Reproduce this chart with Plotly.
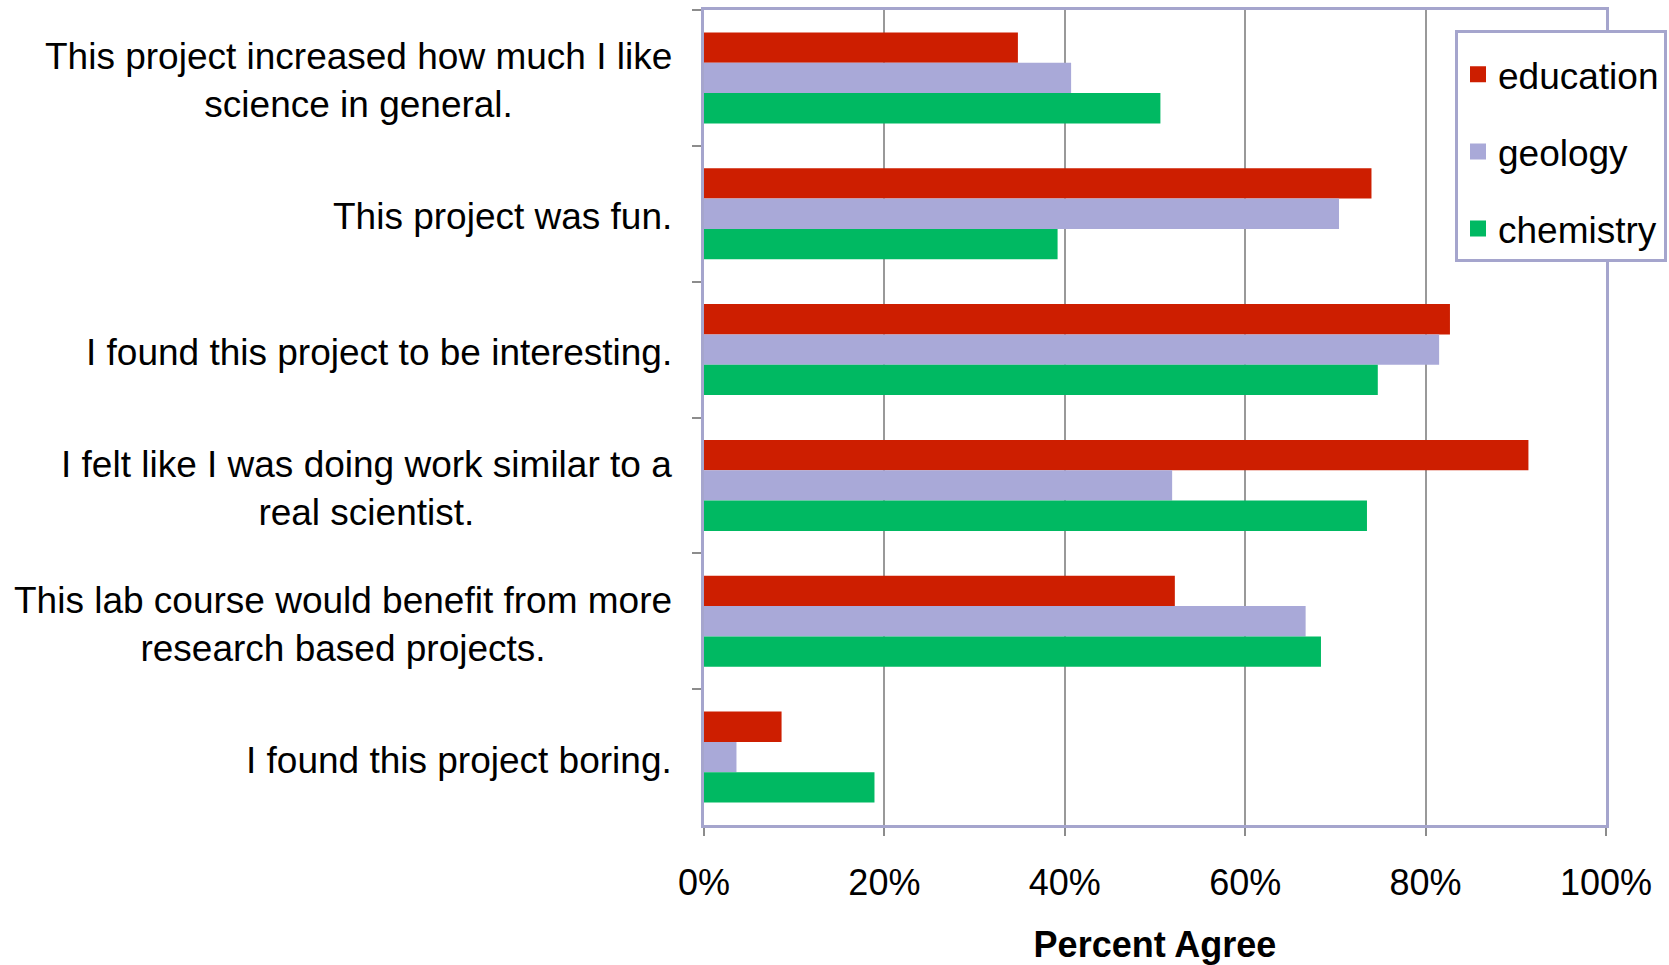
import plotly.graph_objects as go

categories = [
    "This project increased how much I like<br>science in general.",
    "This project was fun.",
    "I found this project to be interesting.",
    "I felt like I was doing work similar to a<br>real scientist.",
    "This lab course would benefit from more<br>research based projects.",
    "I found this project boring.",
]
education = [34.8, 74.0, 82.7, 91.4, 52.2, 8.6]
geology = [40.7, 70.4, 81.5, 51.9, 66.7, 3.6]
chemistry = [50.6, 39.2, 74.7, 73.5, 68.4, 18.9]
series_names = ["education", "geology", "chemistry"]
x_ticks = [0, 20, 40, 60, 80, 100]
x_tick_labels = ["0%", "20%", "40%", "60%", "80%", "100%"]

colors = ["#cd1e00", "#a9a9d8", "#00b962"]
FONT = "Liberation Sans, Arial, sans-serif"
LAV = "#a5a5cd"

fig = go.Figure()
for name, vals, col in zip(series_names, [education, geology, chemistry], colors):
    fig.add_trace(go.Bar(
        y=categories, x=vals, name=name, orientation="h",
        marker=dict(color=col, line=dict(width=0)),
        legendgroup=name, showlegend=False,
    ))
# legend-only entries with larger square swatches
for name, col in zip(series_names, colors):
    fig.add_trace(go.Scatter(
        x=[None], y=[None], mode="markers", name=name,
        marker=dict(symbol="square", size=16, color=col),
        legendgroup=name, showlegend=True, hoverinfo="skip",
    ))

for cat in categories:
    fig.add_annotation(
        x=0, xref="paper", y=cat, yref="y",
        text=cat, showarrow=False, xanchor="right", yanchor="middle",
        align="center", xshift=-30, yshift=-3,
        font=dict(family=FONT, size=37, color="black"),
    )

fig.update_layout(
    width=1669, height=965,
    margin=dict(l=704, r=63, t=10, b=140, autoexpand=False),
    paper_bgcolor="white", plot_bgcolor="white",
    barmode="group", bargap=0.33, bargroupgap=0,
    font=dict(family=FONT, size=37, color="black"),
    legend=dict(
        x=0.8326, y=0.975, xanchor="left", yanchor="top",
        bgcolor="white", bordercolor=LAV, borderwidth=3,
        font=dict(family=FONT, size=37, color="black"),
        traceorder="grouped", tracegroupgap=26,
        itemwidth=30,
        title=dict(text="&nbsp;", font=dict(size=8)),
    ),
    xaxis=dict(
        range=[0, 100], tickvals=x_ticks, ticktext=x_tick_labels,
        showgrid=True, gridcolor="#999999", gridwidth=2,
        showline=True, linecolor=LAV, linewidth=3, mirror=True,
        ticks="outside", ticklen=8, tickcolor="#8c8c8c", tickwidth=2,
        ticklabelstandoff=16,
        tickfont=dict(family=FONT, size=36, color="black"),
        title=dict(text="<b>Percent Agree</b>", standoff=35,
                   font=dict(family=FONT, size=36, color="black")),
        zeroline=False, fixedrange=True,
    ),
    yaxis=dict(
        autorange="reversed", showticklabels=False,
        showline=True, linecolor=LAV, linewidth=3, mirror=True,
        ticks="outside", ticklen=9, tickcolor="#8c8c8c", tickwidth=2,
        tickson="boundaries", showgrid=False, fixedrange=True,
    ),
)

fig.write_html("out.html")
